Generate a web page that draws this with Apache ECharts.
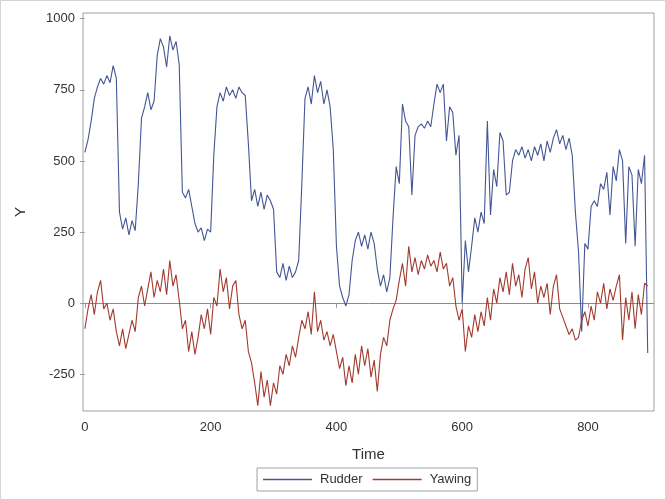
<!DOCTYPE html>
<html>
<head>
<meta charset="utf-8">
<script src="https://cdn.jsdelivr.net/npm/echarts@6/dist/echarts.min.js"></script>
<style>html,body{margin:0;padding:0;background:#fff}#c{width:666px;height:500px}</style>
</head>
<body>
<div id="c"></div>
<script>
// Time sampled every 5 units, starting at 0
var timeStep = 5;
var rudder = [
 530,575,640,720,760,790,770,800,775,835,790,320,260,300,240,290,255,420,650,690,
 740,680,710,870,930,900,830,940,890,920,840,390,370,400,340,280,250,265,220,260,
 250,520,690,740,710,760,730,750,720,760,740,730,560,360,400,340,390,330,380,360,
 330,110,90,140,80,130,90,110,150,420,720,760,700,800,740,780,700,750,690,540,
 200,60,20,-10,30,150,220,250,200,240,190,250,210,120,60,100,40,90,300,480,
 420,700,640,620,380,590,620,630,615,640,620,700,770,740,770,570,690,670,520,590,
 0,220,110,200,300,250,320,280,640,310,470,410,600,570,380,390,500,540,520,550,
 510,540,500,550,520,560,500,570,530,580,610,560,590,540,580,520,320,180,-100,210,
 190,340,360,340,420,400,460,310,480,430,540,500,210,480,450,200,470,420,520,-175
];
var yawing = [
 -90,-20,30,-40,40,80,-20,0,-60,-20,-100,-150,-90,-160,-110,-60,-100,20,60,-10,
 50,110,20,80,40,120,30,150,60,100,10,-90,-60,-170,-100,-180,-120,-40,-90,-20,
 -110,20,-10,120,40,90,-20,60,80,-40,-90,-60,-170,-210,-280,-360,-240,-330,-270,-360,
 -280,-320,-220,-250,-180,-220,-150,-190,-120,-60,-90,-30,-110,40,-100,-60,-130,-100,-150,-110,
 -170,-230,-190,-290,-220,-280,-180,-250,-150,-220,-160,-260,-200,-310,-180,-120,-150,-60,-20,10,
 80,140,60,200,110,160,100,150,120,170,130,150,110,180,120,140,60,90,-10,-60,
 -20,-170,-80,-120,-40,-100,-30,-80,20,-60,50,0,90,40,110,30,140,60,100,20,
 120,160,50,110,0,60,20,70,-40,60,100,-20,-50,-80,-110,-90,-130,-120,-60,-30,
 -80,-10,-60,40,0,70,-20,50,10,60,100,-130,20,-60,40,-90,30,-40,70,60
];
var xTicks = [0, 200, 400, 600, 800];
var yTicks = [-250, 0, 250, 500, 750, 1000];
var seriesNames = ['Rudder', 'Yawing'];

function pairs(arr) {
  return arr.map(function (v, i) { return [i * timeStep, v]; });
}

var chart = echarts.init(document.getElementById('c'), null, {renderer: 'canvas'});
var axisGray = '#a0a0a0';
var txt = '#333333';
var ff = '"Liberation Sans", Arial, sans-serif';
chart.setOption({
  animation: false,
  backgroundColor: '#ffffff',
  textStyle: {fontFamily: ff},
  graphic: [{
    type: 'rect', silent: true, z: -1,
    shape: {x: 0.5, y: 0.5, width: 665, height: 499},
    style: {fill: 'none', stroke: '#d4d4d4', lineWidth: 1}
  }],
  grid: {left: 83, right: 12, top: 13, bottom: 89, show: true, borderColor: axisGray, borderWidth: 1, containLabel: false},
  legend: {
    data: seriesNames,
    top: 468, left: 257,
    icon: 'rect', itemWidth: 49, itemHeight: 1.5, itemGap: 10,
    borderColor: axisGray, borderWidth: 1, padding: [5, 6],
    textStyle: {fontSize: 13, color: txt, fontFamily: ff, padding: [0, 0, 0, 3]}
  },
  xAxis: {
    type: 'value', min: -3, max: 905,
    name: 'Time', nameLocation: 'middle', nameGap: 36,
    nameTextStyle: {fontSize: 15, color: txt, fontFamily: ff},
    axisLine: {show: false},
    axisTick: {show: true, length: 5, lineStyle: {color: axisGray}, customValues: xTicks},
    axisLabel: {fontSize: 13, color: txt, margin: 10, customValues: xTicks, fontFamily: ff,
      formatter: function (v) { return String(v); }},
    splitLine: {show: false}
  },
  yAxis: {
    type: 'value', min: -379, max: 1020,
    name: 'Y', nameLocation: 'middle', nameGap: 55, nameRotate: 90,
    nameTextStyle: {fontSize: 15, color: txt, fontFamily: ff},
    axisLine: {show: false},
    axisTick: {show: true, length: 5, lineStyle: {color: axisGray}, customValues: yTicks},
    axisLabel: {fontSize: 13, color: txt, margin: 8, customValues: yTicks, fontFamily: ff,
      formatter: function (v) { return String(v); }},
    splitLine: {show: false}
  },
  series: [
    {
      name: seriesNames[0], type: 'line', data: pairs(rudder), showSymbol: false, symbol: 'none',
      lineStyle: {color: '#445694', width: 1.1}, itemStyle: {color: '#445694'}, z: 3,
      markLine: {
        silent: true, symbol: 'none', label: {show: false},
        lineStyle: {color: '#8c8c8c', width: 1, type: 'solid'},
        data: [{yAxis: 0}], z: 1
      }
    },
    {
      name: seriesNames[1], type: 'line', data: pairs(yawing), showSymbol: false, symbol: 'none',
      lineStyle: {color: '#A23A2E', width: 1.1}, itemStyle: {color: '#A23A2E'}, z: 3
    }
  ]
});
</script>
</body>
</html>
